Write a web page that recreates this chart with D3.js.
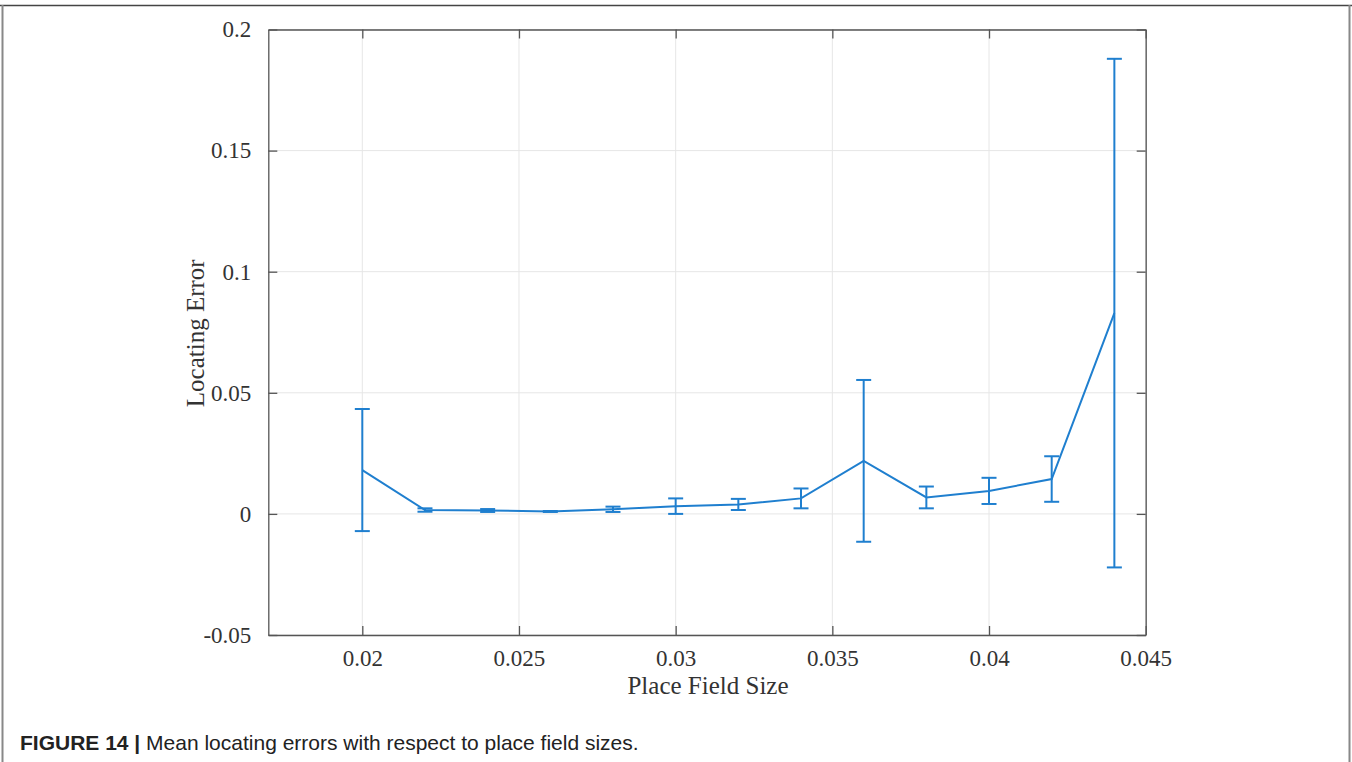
<!DOCTYPE html>
<html>
<head>
<meta charset="utf-8">
<script src="https://cdn.jsdelivr.net/npm/d3@7"></script>
<style>
  html, body { margin: 0; padding: 0; background: #fff; }
  svg { display: block; }
</style>
</head>
<body>
<svg id="chart" width="1352" height="762"></svg>
<script>
// Place field size vs. mean locating error with standard-deviation bars
const fieldSizes = [0.020, 0.022, 0.024, 0.026, 0.028, 0.030, 0.032, 0.034, 0.036, 0.038, 0.040, 0.042, 0.044];
const meanErrors = [0.0181, 0.0016, 0.0014, 0.0010, 0.0019, 0.0032, 0.0039, 0.0064, 0.0219, 0.0068, 0.0095, 0.0144, 0.0829];
const errorSpread = [0.0252, 0.0007, 0.0006, 0.0002, 0.0011, 0.0032, 0.0023, 0.0041, 0.0334, 0.0045, 0.0054, 0.0094, 0.1050];

const xTicks = [0.02, 0.025, 0.03, 0.035, 0.04, 0.045];
const xTickLabels = ["0.02", "0.025", "0.03", "0.035", "0.04", "0.045"];
const yTicks = [-0.05, 0, 0.05, 0.1, 0.15, 0.2];
const yTickLabels = ["-0.05", "0", "0.05", "0.1", "0.15", "0.2"];

const svg = d3.select("#chart");
const W = 1352, H = 762;
const plot = { left: 268.3, top: 29.5, right: 1145.7, bottom: 635 };

const x = d3.scaleLinear().domain([0.017, 0.045]).range([plot.left, plot.right]);
const y = d3.scaleLinear().domain([-0.05, 0.2]).range([plot.bottom, plot.top]);

const serif = "'Liberation Serif', 'Times New Roman', serif";
const axisColor = "#555";
const lineColor = "#1f7fcf";

// outer figure frame
svg.append("line").attr("x1", 0).attr("x2", W).attr("y1", 5.5).attr("y2", 5.5)
  .attr("stroke", "#444").attr("stroke-width", 1.5);
svg.append("line").attr("x1", 2.5).attr("x2", 2.5).attr("y1", 5).attr("y2", H)
  .attr("stroke", "#888").attr("stroke-width", 2);
svg.append("line").attr("x1", 1349.5).attr("x2", 1349.5).attr("y1", 5).attr("y2", H)
  .attr("stroke", "#888").attr("stroke-width", 2);

// grid lines
const grid = svg.append("g");
grid.selectAll("line.gx").data(xTicks).join("line")
  .attr("x1", d => x(d)).attr("x2", d => x(d))
  .attr("y1", plot.top).attr("y2", plot.bottom)
  .attr("stroke", "#e6e6e6").attr("stroke-width", 1);
grid.selectAll("line.gy").data(yTicks).join("line")
  .attr("x1", plot.left).attr("x2", plot.right)
  .attr("y1", d => y(d)).attr("y2", d => y(d))
  .attr("stroke", "#e6e6e6").attr("stroke-width", 1);

// axes (ticks drawn inward, box style)
const tickLen = 9;
const bottomAxis = svg.append("g").attr("transform", `translate(0,${plot.bottom})`)
  .call(d3.axisBottom(x).tickValues(xTicks).tickSizeInner(-tickLen).tickSizeOuter(0)
    .tickFormat((d, i) => xTickLabels[i]).tickPadding(15));
const topAxis = svg.append("g").attr("transform", `translate(0,${plot.top})`)
  .call(d3.axisTop(x).tickValues(xTicks).tickSizeInner(-tickLen).tickSizeOuter(0).tickFormat(""));
const leftAxis = svg.append("g").attr("transform", `translate(${plot.left},0)`)
  .call(d3.axisLeft(y).tickValues(yTicks).tickSizeInner(-tickLen).tickSizeOuter(0)
    .tickFormat((d, i) => yTickLabels[i]).tickPadding(17));
const rightAxis = svg.append("g").attr("transform", `translate(${plot.right},0)`)
  .call(d3.axisRight(y).tickValues(yTicks).tickSizeInner(-tickLen).tickSizeOuter(0).tickFormat(""));

[bottomAxis, topAxis, leftAxis, rightAxis].forEach(g => {
  g.selectAll("path.domain").attr("stroke", axisColor).attr("stroke-width", 1.3);
  g.selectAll(".tick line").attr("stroke", axisColor).attr("stroke-width", 1.3);
  g.selectAll(".tick text").attr("fill", "#333").style("font-family", serif).style("font-size", "23px");
});

// axis titles
svg.append("text").attr("x", (plot.left + plot.right) / 2 + 1).attr("y", 694)
  .attr("text-anchor", "middle").attr("fill", "#333")
  .style("font-family", serif).style("font-size", "25px").text("Place Field Size");
svg.append("text").attr("transform", `translate(204,${(plot.top + plot.bottom) / 2 + 1}) rotate(-90)`)
  .attr("text-anchor", "middle").attr("fill", "#333")
  .style("font-family", serif).style("font-size", "25px").text("Locating Error");

// mean line
const pts = fieldSizes.map((d, i) => ({ x: d, m: meanErrors[i], s: errorSpread[i] }));
svg.append("path").datum(pts)
  .attr("fill", "none").attr("stroke", lineColor).attr("stroke-width", 2)
  .attr("d", d3.line().x(d => x(d.x)).y(d => y(d.m)));

// error bars
const capW = 7.5;
const bars = svg.append("g").attr("stroke", lineColor).attr("stroke-width", 2);
bars.selectAll("line.v").data(pts).join("line")
  .attr("x1", d => x(d.x)).attr("x2", d => x(d.x))
  .attr("y1", d => y(d.m + d.s)).attr("y2", d => y(d.m - d.s));
bars.selectAll("line.top").data(pts).join("line")
  .attr("x1", d => x(d.x) - capW).attr("x2", d => x(d.x) + capW)
  .attr("y1", d => y(d.m + d.s)).attr("y2", d => y(d.m + d.s));
bars.selectAll("line.bot").data(pts).join("line")
  .attr("x1", d => x(d.x) - capW).attr("x2", d => x(d.x) + capW)
  .attr("y1", d => y(d.m - d.s)).attr("y2", d => y(d.m - d.s));

// caption
const cap = svg.append("text").attr("x", 20).attr("y", 750).attr("fill", "#222")
  .style("font-family", "'Liberation Sans', Arial, sans-serif").style("font-size", "21px");
cap.append("tspan").attr("font-weight", "bold").text("FIGURE 14 | ");
cap.append("tspan").text("Mean locating errors with respect to place field sizes.");
</script>
</body>
</html>
